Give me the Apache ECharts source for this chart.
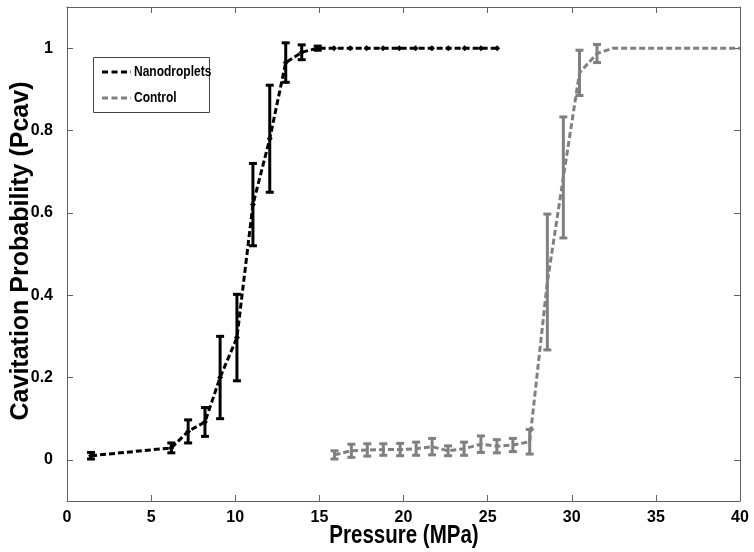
<!DOCTYPE html>
<html><head><meta charset="utf-8">
<script src="https://cdn.jsdelivr.net/npm/echarts@6/dist/echarts.min.js"></script>
<style>html,body{margin:0;padding:0;background:#fff}#c{width:754px;height:552px}</style>
</head><body><div id="c"></div>
<script>
// Nanodroplets
const nanoX = [1.43, 6.2, 7.2, 8.2, 9.1, 10.1, 11.05, 12.05, 13.0, 13.95, 14.9, 15.87, 16.84, 17.81, 18.78, 19.75, 20.72, 21.69, 22.66, 23.63, 24.6, 25.57];
const nanoY = [0.01, 0.029, 0.069, 0.092, 0.2, 0.297, 0.62, 0.78, 0.965, 0.99, 1.0, 1, 1, 1, 1, 1, 1, 1, 1, 1, 1, 1];
const nanoErr = [0.008, 0.012, 0.028, 0.035, 0.1, 0.105, 0.1, 0.13, 0.048, 0.018, 0.005, 0, 0, 0, 0, 0, 0, 0, 0, 0, 0, 0];
// Control
const ctrlX = [15.9, 16.9, 17.85, 18.8, 19.8, 20.75, 21.7, 22.65, 23.6, 24.6, 25.55, 26.5, 27.5, 28.55, 29.5, 30.46, 31.5, 32.46, 33.42, 34.38, 35.34, 36.3, 37.26, 38.22, 39.18, 40.0];
const ctrlY = [0.012, 0.022, 0.024, 0.025, 0.025, 0.027, 0.032, 0.022, 0.027, 0.038, 0.033, 0.036, 0.044, 0.432, 0.686, 0.94, 0.987, 1, 1, 1, 1, 1, 1, 1, 1, 1];
const ctrlErr = [0.01, 0.016, 0.015, 0.014, 0.015, 0.016, 0.02, 0.012, 0.016, 0.02, 0.016, 0.016, 0.03, 0.165, 0.147, 0.055, 0.022, 0, 0, 0, 0, 0, 0, 0, 0, 0];
const yTicks = [0, 0.2, 0.4, 0.6, 0.8, 1];
const legendNames = ['Nanodroplets', 'Control'];
const xTitle = 'Pressure (MPa)';
const yTitle = 'Cavitation Probability (Pcav)';

const BLACK = '#000000', GRAY = '#808080';
const font = '"Liberation Sans", Arial, sans-serif';

function pairs(xs, ys) { return xs.map((x, i) => [x, ys[i]]); }
function errData(xs, ys, es) { return xs.map((x, i) => [x, ys[i] - es[i], ys[i] + es[i]]).filter((d, i) => es[i] > 0); }
function errSeries(name, data, color) {
  return {
    type: 'custom', name: name, data: data, z: 5, silent: true,
    encode: { x: 0, y: [1, 2] },
    renderItem: function (params, api) {
      const lo = api.coord([api.value(0), api.value(1)]);
      const hi = api.coord([api.value(0), api.value(2)]);
      const w = 4;
      const st = { stroke: color, lineWidth: 3 };
      return { type: 'group', children: [
        { type: 'line', shape: { x1: lo[0], y1: lo[1], x2: hi[0], y2: hi[1] }, style: st },
        { type: 'line', shape: { x1: lo[0] - w, y1: lo[1], x2: lo[0] + w, y2: lo[1] }, style: st },
        { type: 'line', shape: { x1: hi[0] - w, y1: hi[1], x2: hi[0] + w, y2: hi[1] }, style: st }
      ]};
    }
  };
}

const axisLineStyle = { color: '#606060', width: 1 };
const chart = echarts.init(document.getElementById('c'), null, { renderer: 'canvas' });
chart.setOption({
  animation: false,
  backgroundColor: '#fff',
  grid: { left: 67, right: 14, top: 7, bottom: 51, show: false, containLabel: false, outerBoundsMode: 'none' },
  graphic: [
    { type: 'rect', left: 93, top: 57, shape: { width: 116, height: 55 }, z: 10,
      style: { fill: '#fff', stroke: '#444', lineWidth: 1 } },
    { type: 'line', z: 11, shape: { x1: 102, y1: 72, x2: 131, y2: 72 },
      style: { stroke: BLACK, lineWidth: 3, lineDash: [6, 3.5] } },
    { type: 'line', z: 11, shape: { x1: 102, y1: 98, x2: 131, y2: 98 },
      style: { stroke: GRAY, lineWidth: 3, lineDash: [6, 3.5] } },
    { type: 'text', z: 11, x: 134, y: 72, scaleX: 0.8,
      style: { text: legendNames[0], font: 'bold 15px ' + font, fill: '#000', verticalAlign: 'middle' } },
    { type: 'text', z: 11, x: 134, y: 98, scaleX: 0.8,
      style: { text: legendNames[1], font: 'bold 15px ' + font, fill: '#000', verticalAlign: 'middle' } },
    { type: 'text', z: 11, x: 404, y: 536, scaleX: 0.82,
      style: { text: xTitle, font: 'bold 25px ' + font, fill: '#000', align: 'center', verticalAlign: 'middle' } },
    { type: 'text', z: 11, x: 21, y: 251, rotation: Math.PI / 2,
      style: { text: yTitle, font: 'bold 25px ' + font, fill: '#000', align: 'center', verticalAlign: 'middle' } }
  ],
  xAxis: [{
    type: 'value', min: 0, max: 40, interval: 5, position: 'bottom',
    axisLine: { show: true, onZero: false, lineStyle: axisLineStyle },
    axisTick: { show: true, inside: true, length: 6, lineStyle: axisLineStyle },
    axisLabel: { fontFamily: font, fontWeight: 'bold', fontSize: 16, color: '#000', margin: 9 },
    splitLine: { show: false }
  }, {
    type: 'value', min: 0, max: 40, interval: 5, position: 'top',
    axisLine: { show: true, onZero: false, lineStyle: axisLineStyle },
    axisTick: { show: true, inside: true, length: 6, lineStyle: axisLineStyle },
    axisLabel: { show: false }, splitLine: { show: false }
  }],
  yAxis: [{
    type: 'value', min: -0.1, max: 1.1, position: 'left',
    axisLine: { show: true, onZero: false, lineStyle: axisLineStyle },
    axisTick: { show: true, inside: true, length: 6, customValues: yTicks, lineStyle: axisLineStyle },
    axisLabel: { fontFamily: font, fontWeight: 'bold', fontSize: 16, color: '#000', margin: 14, customValues: yTicks,
      formatter: v => String(+v.toFixed(1)) },
    splitLine: { show: false }
  }, {
    type: 'value', min: -0.1, max: 1.1, position: 'right',
    axisLine: { show: true, onZero: false, lineStyle: axisLineStyle },
    axisTick: { show: true, inside: true, length: 6, customValues: yTicks, lineStyle: axisLineStyle },
    axisLabel: { show: false }, splitLine: { show: false }
  }],
  series: [
    {
      name: 'Nanodroplets', type: 'line', data: pairs(nanoX, nanoY), z: 4,
      symbol: 'diamond', symbolSize: 6, showSymbol: true,
      itemStyle: { color: BLACK },
      lineStyle: { color: BLACK, width: 3, type: [6, 3] }
    },
    {
      name: 'Control', type: 'line', data: pairs(ctrlX, ctrlY), z: 3,
      symbol: 'none', clip: true,
      itemStyle: { color: GRAY },
      lineStyle: { color: GRAY, width: 3, type: [6, 3] }
    },
    errSeries('nanoErr', errData(nanoX, nanoY, nanoErr), BLACK),
    errSeries('ctrlErr', errData(ctrlX, ctrlY, ctrlErr), GRAY)
  ]
});
</script></body></html>
